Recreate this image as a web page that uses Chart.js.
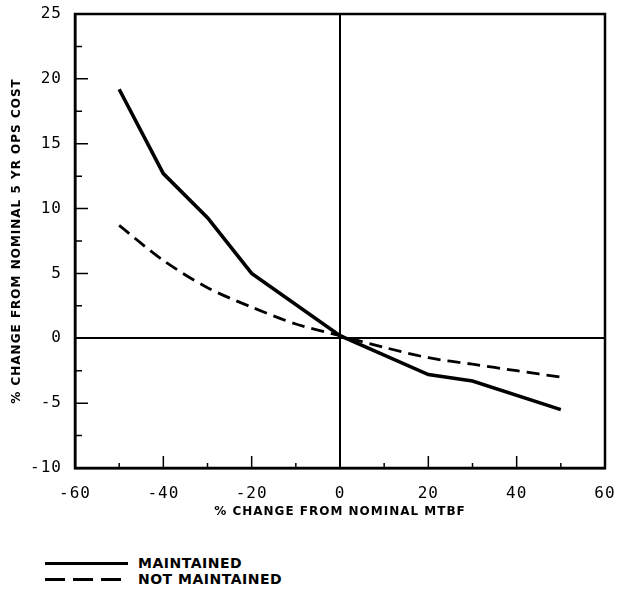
<!DOCTYPE html>
<html>
<head>
<meta charset="utf-8">
<script src="https://cdn.jsdelivr.net/npm/chart.js@4"></script>
<style>
  body { margin: 0; background: #fff; }
  .wrap { position: relative; width: 622px; height: 598px; }
  .chart-box { position: absolute; left: 0; top: 0; width: 622px; height: 540px; }
  .legend-row { position: absolute; left: 45px; height: 14px; display: flex; align-items: center; }
  .legend-row .line { width: 83px; height: 3px; background: #000; }
  .legend-row .line.dash { background: repeating-linear-gradient(to right, #000 0 20px, transparent 20px 28px); }
  .legend-row span { margin-left: 10px; font: bold 14px "DejaVu Sans", sans-serif; letter-spacing: 0.5px; color: #000; }
</style>
</head>
<body>
<div class="wrap">
  <div class="chart-box"><canvas id="mtbf-chart"></canvas></div>
  <div class="legend-row" style="top:556px"><div class="line"></div><span>MAINTAINED</span></div>
  <div class="legend-row" style="top:572px"><div class="line dash"></div><span>NOT MAINTAINED</span></div>
</div>
<script>
// Data
const maintainedX = [-50, -40, -30, -20, 0, 20, 30, 50];
const maintainedY = [19.2, 12.7, 9.3, 5.0, 0.2, -2.8, -3.3, -5.5];
const notMaintainedX = [-50, -40, -30, -20, -10, 0, 10, 20, 30, 40, 50];
const notMaintainedY = [8.7, 6.0, 3.9, 2.4, 1.1, 0.2, -0.7, -1.5, -2.0, -2.5, -3.0];
const xTicks = [-60, -40, -20, 0, 20, 40, 60];
const yTicks = [-10, -5, 0, 5, 10, 15, 20, 25];
const seriesNames = ["MAINTAINED", "NOT MAINTAINED"];

const toPoints = (xs, ys) => xs.map((x, i) => ({ x: x, y: ys[i] }));

// wider text like the scan
const spacingPlugin = {
  id: "spacing",
  beforeLayout: (chart) => { chart.ctx.letterSpacing = "1px"; },
  beforeDraw: (chart) => { chart.ctx.letterSpacing = "1px"; },
};

// Frame + inward tick marks
const framePlugin = {
  id: "frame",
  afterDraw: (chart) => {
    const ctx = chart.ctx;
    const area = chart.chartArea;
    const xs = chart.scales.x;
    const ys = chart.scales.y;
    ctx.save();
    ctx.strokeStyle = "#000";
    ctx.lineWidth = 2.5;
    ctx.strokeRect(area.left, area.top, area.right - area.left, area.bottom - area.top);

    ctx.lineWidth = 1.5;
    ctx.beginPath();
    for (let v = -10; v <= 25; v += 2.5) {
      const py = ys.getPixelForValue(v);
      const len = v % 5 === 0 ? 13 : 7;
      ctx.moveTo(area.left, py);
      ctx.lineTo(area.left + len, py);
    }
    for (let v = -60; v <= 60; v += 10) {
      const px = xs.getPixelForValue(v);
      const len = v % 20 === 0 ? 12 : 5;
      ctx.moveTo(px, area.bottom);
      ctx.lineTo(px, area.bottom - len);
    }
    ctx.stroke();
    ctx.restore();
  },
};

const mtbfChart = document.querySelector("#mtbf-chart");
if (mtbfChart) {
  new Chart(mtbfChart, {
    type: "line",
    data: {
      datasets: [
        {
          label: seriesNames[0],
          data: toPoints(maintainedX, maintainedY),
          borderColor: "#000",
          borderWidth: 3.6,
          pointRadius: 0,
          tension: 0,
        },
        {
          label: seriesNames[1],
          data: toPoints(notMaintainedX, notMaintainedY),
          borderColor: "#000",
          borderWidth: 2.8,
          borderDash: [13, 7],
          pointRadius: 0,
          tension: 0.3,
        },
      ],
    },
    options: {
      responsive: true,
      maintainAspectRatio: false,
      animation: false,
      layout: { padding: { top: 14, right: 17, left: 0, bottom: 0 } },
      plugins: {
        legend: { display: false },
        tooltip: { enabled: false },
      },
      scales: {
        x: {
          type: "linear",
          min: -60,
          max: 60,
          afterFit: (scale) => {
            scale.height = 72;
            scale.paddingLeft = 0;
            scale.paddingRight = 0;
          },
          afterBuildTicks: (scale) => { scale.ticks = xTicks.map((v) => ({ value: v })); },
          ticks: {
            color: "#000",
            padding: 16,
            maxRotation: 0,
            font: { family: "DejaVu Sans Mono", size: 16 },
          },
          grid: {
            drawTicks: false,
            lineWidth: 2,
            color: (c) => (c.tick && c.tick.value === 0 ? "#000" : "rgba(0,0,0,0)"),
          },
          border: { display: true, color: "#000", width: 2.5 },
          title: {
            display: true,
            text: "% CHANGE FROM NOMINAL MTBF",
            color: "#000",
            padding: { top: 0, bottom: 21 },
            font: { family: "DejaVu Sans", size: 12, weight: "bold" },
          },
        },
        y: {
          type: "linear",
          min: -10,
          max: 25,
          afterFit: (scale) => {
            scale.width = 75;
            scale.paddingTop = 0;
            scale.paddingBottom = 0;
          },
          afterBuildTicks: (scale) => { scale.ticks = yTicks.map((v) => ({ value: v })); },
          ticks: {
            color: "#000",
            padding: 13,
            font: { family: "DejaVu Sans Mono", size: 16 },
          },
          grid: {
            drawTicks: false,
            lineWidth: 2,
            color: (c) => (c.tick && c.tick.value === 0 ? "#000" : "rgba(0,0,0,0)"),
          },
          border: { display: true, color: "#000", width: 2.5 },
          title: {
            display: true,
            text: "% CHANGE FROM NOMINAL 5 YR OPS COST",
            color: "#000",
            padding: { top: 10, bottom: 0 },
            font: { family: "DejaVu Sans", size: 12, weight: "bold" },
          },
        },
      },
    },
    plugins: [spacingPlugin, framePlugin],
  });
}
</script>
</body>
</html>
